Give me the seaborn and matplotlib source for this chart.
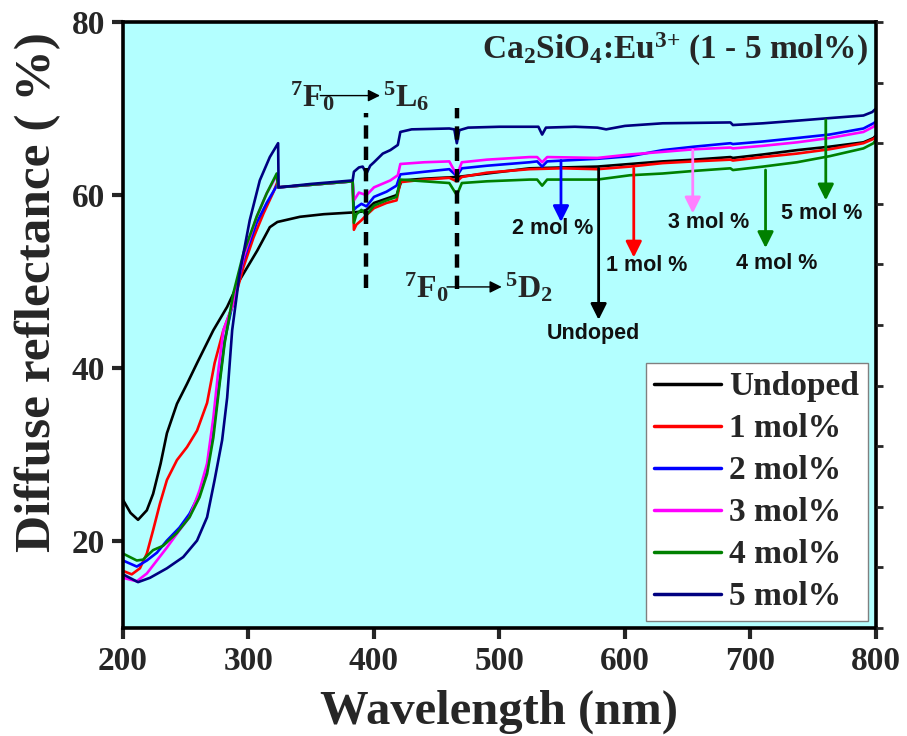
import numpy as np
import pandas as pd
import matplotlib
matplotlib.use("Agg")
import matplotlib.pyplot as plt
import seaborn as sns

# ---------------- data ----------------
series_names = ["Undoped", "1 mol%", "2 mol%", "3 mol%", "4 mol%", "5 mol%"]
series_colors = ["#000000", "#FF0000", "#0000FF", "#FF00FF", "#008000", "#000080"]

undoped_nm = [200, 206, 212, 219, 224, 230, 235, 243, 251, 259, 272, 283, 293, 307, 317, 323,
              332, 341, 360, 383, 390, 394, 400, 410, 418, 422, 440, 466, 490, 524, 550, 578,
              604, 630, 655, 684, 686, 710, 737, 763, 790, 798, 800]
undoped_r = [24.8, 23.3, 22.5, 23.6, 25.5, 29.0, 32.5, 35.9, 38.2, 40.6, 44.4, 47.1, 50.2, 53.6, 56.3, 56.9,
             57.2, 57.5, 57.8, 58.0, 58.1, 58.3, 59.1, 59.6, 60.0, 61.7, 61.9, 62.1, 62.5, 63.1, 63.2, 63.3,
             63.6, 63.9, 64.1, 64.4, 64.3, 64.7, 65.2, 65.6, 66.1, 66.6, 66.9]

mol1_nm = [200, 207, 213.5, 219, 224, 229.5, 235, 243, 251, 259, 267, 273, 280, 288, 296, 304, 312, 320, 323,
           323.5, 350, 383, 384, 386, 390, 394, 400, 410, 418, 421, 440, 460, 466, 470, 490, 524, 550, 578,
           604, 630, 655, 684, 686, 710, 737, 763, 790, 798, 800]
mol1_r = [16.6, 16.2, 16.9, 18.6, 21.3, 24.4, 27.1, 29.4, 30.9, 32.8, 36.0, 40.6, 44.4, 47.5, 51.7, 55.1, 57.9, 60.4, 61.5,
          60.9, 61.2, 61.6, 56.0, 56.6, 57.1, 57.7, 58.5, 59.1, 59.4, 61.5, 61.8, 62.0, 61.6, 62.1, 62.6, 63.0, 63.1, 63.0,
          63.3, 63.7, 63.9, 64.1, 64.0, 64.4, 64.8, 65.3, 66.0, 66.5, 66.7]

mol2_nm = [200, 211, 219, 227, 235, 245, 253, 261, 267, 272, 277, 281, 288, 296, 306.5, 314.5, 323,
           323.5, 350, 383, 384, 386, 390, 394, 400, 410, 418, 421, 440, 460, 466, 470, 490, 524, 530, 534, 538,
           578, 604, 630, 655, 684, 686, 710, 737, 763, 790, 798, 800]
mol2_r = [17.8, 17.1, 17.8, 18.7, 20.1, 21.6, 23.2, 25.5, 28.2, 32.8, 38.6, 43.2, 47.9, 52.5, 56.8, 59.1, 61.2,
          60.9, 61.2, 61.6, 58.3, 58.6, 59.0, 58.7, 59.8, 60.4, 61.1, 62.4, 62.7, 63.0, 62.2, 63.1, 63.4, 63.8, 63.9, 63.3, 63.9,
          64.2, 64.5, 65.2, 65.6, 66.0, 65.9, 66.2, 66.6, 67.0, 67.7, 68.3, 68.5]

mol3_nm = [200, 211, 219, 227, 235, 245, 253, 261, 267, 272, 276, 280, 287, 296, 306.5, 314.5, 322.5,
           323.5, 350, 383, 384, 388, 394, 400, 413, 419, 421, 440, 460, 466, 470, 490, 524, 530, 534, 538,
           578, 604, 630, 655, 684, 686, 710, 737, 763, 790, 798, 800]
mol3_r = [15.8, 15.4, 16.3, 17.8, 19.3, 21.3, 22.8, 25.9, 29.0, 34.3, 39.8, 44.4, 47.1, 52.8, 57.5, 60.2, 62.3,
          60.9, 61.2, 61.6, 59.4, 60.3, 60.0, 60.9, 61.7, 62.3, 63.6, 63.8, 63.9, 62.3, 63.8, 64.1, 64.4, 64.4, 63.8, 64.4,
          64.3, 64.7, 65.0, 65.3, 65.5, 65.4, 65.7, 66.1, 66.6, 67.3, 67.9, 68.2]

mol4_nm = [200, 211, 216, 224, 232, 243, 253, 261, 267, 272, 277, 281, 288, 296, 306.5, 314.5, 322.5,
           323.5, 350, 383, 384, 386, 390, 394, 400, 410, 418, 421, 440, 460, 466, 470, 490, 524, 530, 534, 538,
           578, 604, 630, 655, 684, 686, 710, 737, 763, 790, 798, 800]
mol4_r = [18.6, 17.8, 17.9, 19.0, 19.5, 21.0, 22.8, 25.1, 27.8, 32.0, 38.2, 42.9, 48.7, 53.3, 57.5, 60.2, 62.5,
          60.9, 61.2, 61.6, 56.8, 57.8, 58.3, 57.7, 58.8, 59.4, 59.8, 61.8, 61.6, 61.4, 60.0, 61.4, 61.6, 61.8, 61.8, 61.1, 61.8,
          61.8, 62.3, 62.5, 62.8, 63.1, 62.9, 63.3, 63.8, 64.5, 65.4, 66.0, 66.4]

mol5_nm = [200, 212, 221.5, 235, 248, 259, 267, 273, 279, 283, 287, 293, 301, 309, 317, 323.6,
           324, 350, 383, 384, 388, 391, 394, 397, 400, 407, 413, 419, 421, 430, 460, 464, 466, 468, 475, 500, 524,
           531, 534, 537, 560, 578, 585, 600, 630, 684, 686, 710, 737, 763, 790, 797, 800]
mol5_r = [16.2, 15.3, 15.8, 16.9, 18.2, 20.1, 22.8, 27.1, 31.7, 36.6, 44.4, 51.0, 57.1, 61.7, 64.4, 66.0,
          60.9, 61.3, 61.7, 62.7, 63.2, 63.3, 62.5, 63.4, 63.8, 64.8, 65.2, 65.8, 67.3, 67.6, 67.7, 67.6, 66.0, 67.5, 67.8, 67.9, 67.9,
          67.9, 67.0, 67.8, 67.9, 67.8, 67.6, 68.0, 68.3, 68.4, 68.1, 68.3, 68.6, 68.9, 69.2, 69.6, 70.0]

series_nm = [undoped_nm, mol1_nm, mol2_nm, mol3_nm, mol4_nm, mol5_nm]
series_r = [undoped_r, mol1_r, mol2_r, mol3_r, mol4_r, mol5_r]

x_ticks = [200, 300, 400, 500, 600, 700, 800]
y_ticks = [20, 40, 60, 80]

# transition markers
transition_nm = [394, 466]
transition_span = [(49.3, 69.5), (49.2, 70.1)]

# arrow annotations: label, colour, x (nm), arrow start, arrow end, label x, label y
ann_labels = ["2 mol %", "Undoped", "1 mol %", "3 mol %", "4 mol %", "5 mol %"]
ann_colors = ["#0000FF", "#000000", "#FF0000", "#FF80FF", "#008000", "#008000"]
ann_x = [549, 579, 607, 654, 712, 760]
ann_start = [64.0, 63.1, 63.1, 65.2, 62.9, 68.7]
ann_end = [56.9, 45.6, 52.8, 57.9, 53.9, 59.4]
ann_text_x = [542, 574.5, 617, 667, 721, 757]
ann_text_y = [56.1, 44.0, 51.9, 56.8, 52.1, 57.9]

# ---------------- build table ----------------
rows = []
for name, xs, ys in zip(series_names, series_nm, series_r):
    for xv, yv in zip(xs, ys):
        rows.append({"Wavelength": xv, "Reflectance": yv, "Sample": name})
df = pd.DataFrame(rows)

# ---------------- style ----------------
sns.set_style("ticks")
plt.rcParams["font.family"] = ["Liberation Serif", "DejaVu Serif"]
plt.rcParams["font.weight"] = "bold"
plt.rcParams["mathtext.fontset"] = "custom"
plt.rcParams["mathtext.rm"] = "Liberation Serif:bold"
plt.rcParams["mathtext.it"] = "Liberation Serif:bold"
plt.rcParams["mathtext.bf"] = "Liberation Serif:bold"

fig = plt.figure(figsize=(9.07, 7.36), dpi=100)
ax = fig.add_axes([0.1356, 0.1467, 0.9658 - 0.1356, 0.9701 - 0.1467])
ax.set_facecolor("#B3FFFF")

sns.lineplot(data=df, x="Wavelength", y="Reflectance", hue="Sample",
             hue_order=series_names, palette=series_colors, estimator=None,
             sort=False, linewidth=1.9, legend=False, ax=ax)

ax.set_xlim(200, 800)
ax.set_ylim(10, 80)
ax.set_xticks(x_ticks)
ax.set_yticks(y_ticks)
ax.tick_params(axis="both", direction="out", length=8, width=3, labelsize=24, pad=5)
for lab in ax.get_xticklabels() + ax.get_yticklabels():
    lab.set_fontweight("bold")
for sp in ax.spines.values():
    sp.set_linewidth(2.6)
    sp.set_color("black")

ax.set_xlabel("Wavelength (nm)", fontsize=35, fontweight="bold", va="center")
ax.xaxis.set_label_coords(0.5, -0.138)
ax.set_ylabel("Diffuse reflectance ( %)", fontsize=37, fontweight="bold", va="center", ha="center")
ax.yaxis.set_label_coords(-0.113, 0.555)

# right-hand ticks
ax2 = ax.twinx()
ax2.set_ylim(0, 10)
ax2.set_yticks(np.arange(0, 11, 1))
ax2.tick_params(axis="y", direction="out", length=5, width=2, labelright=False)
for sp in ax2.spines.values():
    sp.set_visible(False)

# legend
handles = ax.get_lines()[:6]
leg = ax.legend(handles, series_names, loc="lower right", bbox_to_anchor=(0.989, 0.012),
                borderaxespad=0, frameon=True, fancybox=False, edgecolor="#808080",
                facecolor="white", framealpha=1, handlelength=2.0, handletextpad=0.25,
                labelspacing=0.33, borderpad=0.25,
                prop={"family": "Liberation Serif", "weight": "bold", "size": 24})
leg.get_frame().set_linewidth(1.0)
for h in leg.get_lines():
    h.set_linewidth(2.5)

# title inside
ax.text(0.989, 0.954, r"Ca$_2$SiO$_4$:Eu$^{3{+}}$ (1 - 5 mol%)", transform=ax.transAxes,
        ha="right", va="center", fontsize=24, fontweight="bold")

# transition dashed lines
for xv, (y0, y1) in zip(transition_nm, transition_span):
    ax.vlines(xv, y0, y1, colors="black", linestyles=(0, (3, 1.8)), linewidth=3.2)

# transition labels
ax.text(333, 70.2, r"$^{7}$F$_{0}$", fontsize=23, fontweight="bold", ha="left", va="baseline")
ax.text(407.5, 70.2, r"$^{5}$L$_{6}$", fontsize=23, fontweight="bold", ha="left", va="baseline")
ax.annotate("", xy=(407, 71.5), xytext=(355, 71.5),
            arrowprops=dict(arrowstyle="-|>", color="black", lw=1.0, mutation_scale=18))
ax.text(424, 48.2, r"$^{7}$F$_{0}$", fontsize=23, fontweight="bold", ha="left", va="baseline")
ax.text(504.5, 48.2, r"$^{5}$D$_{2}$", fontsize=23, fontweight="bold", ha="left", va="baseline")
ax.annotate("", xy=(504, 49.4), xytext=(456, 49.4),
            arrowprops=dict(arrowstyle="-|>", color="black", lw=1.0, mutation_scale=18))

# sample arrows
for lab, col, xv, ys, ye, tx, ty in zip(ann_labels, ann_colors, ann_x, ann_start, ann_end,
                                         ann_text_x, ann_text_y):
    ax.annotate("", xy=(xv, ye), xytext=(xv, ys),
                arrowprops=dict(arrowstyle="-|>", color=col, lw=2.0, mutation_scale=24,
                                shrinkA=0, shrinkB=0))
    ax.text(tx, ty, lab, fontsize=15.5, fontweight="bold", ha="center", va="center",
            family=["Liberation Sans", "DejaVu Sans"], color="#111111")

fig.savefig("out.png", dpi=100)
